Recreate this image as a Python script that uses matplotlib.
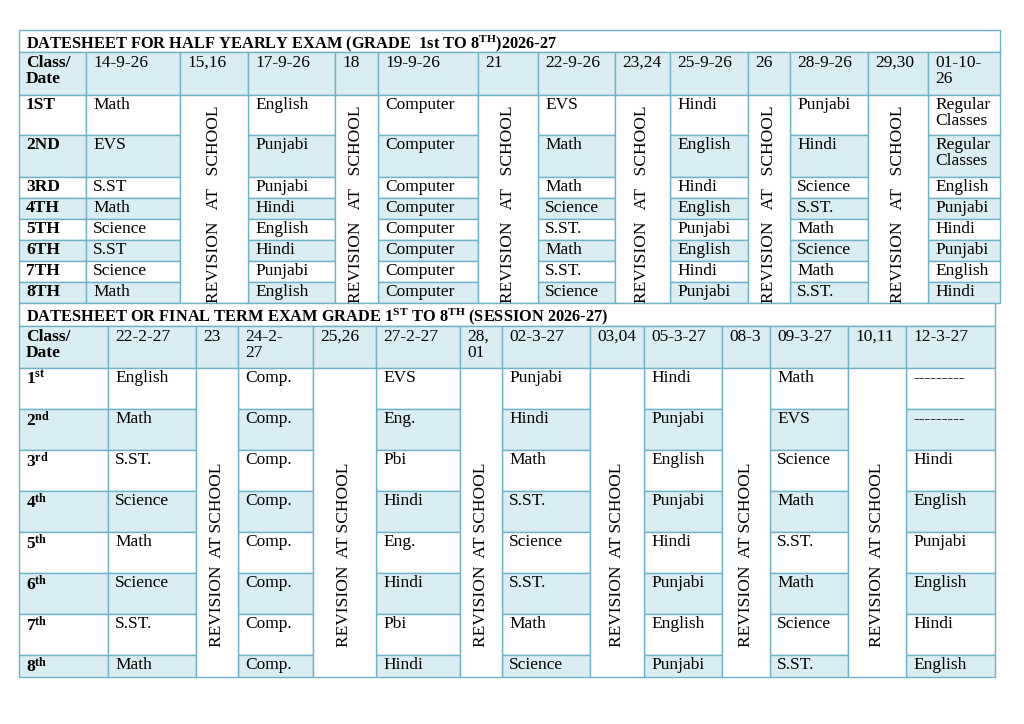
import matplotlib
matplotlib.use("Agg")
import matplotlib.pyplot as plt
from matplotlib.patches import Rectangle

FONT = "Liberation Serif"
BLUE = "#daedf3"
EDGE = "#6fb3c8"

title1 = "DATESHEET FOR HALF YEARLY EXAM (GRADE  1st TO 8$\\mathregular{^{TH}}$)2026-27"
head1 = ["Class/\nDate", "14-9-26", "15,16", "17-9-26", "18", "19-9-26", "21", "22-9-26",
         "23,24", "25-9-26", "26", "28-9-26", "29,30", "01-10-\n26"]
rev1 = [2, 4, 6, 8, 10, 12]
classes1 = ["1ST", "2ND", "3RD", "4TH", "5TH", "6TH", "7TH", "8TH"]
exam1 = [
    ["Math", "English", "Computer", "EVS", "Hindi", "Punjabi", "Regular\nClasses"],
    ["EVS", "Punjabi", "Computer", "Math", "English", "Hindi", "Regular\nClasses"],
    ["S.ST", "Punjabi", "Computer", "Math", "Hindi", "Science", "English"],
    ["Math", "Hindi", "Computer", "Science", "English", "S.ST.", "Punjabi"],
    ["Science", "English", "Computer", "S.ST.", "Punjabi", "Math", "Hindi"],
    ["S.ST", "Hindi", "Computer", "Math", "English", "Science", "Punjabi"],
    ["Science", "Punjabi", "Computer", "S.ST.", "Hindi", "Math", "English"],
    ["Math", "English", "Computer", "Science", "Punjabi", "S.ST.", "Hindi"],
]
title2 = "DATESHEET OR FINAL TERM EXAM GRADE 1$\\mathregular{^{ST}}$ TO 8$\\mathregular{^{TH}}$ (SESSION 2026-27)"
head2 = ["Class/\nDate", "22-2-27", "23", "24-2-\n27", "25,26", "27-2-27", "28,\n01", "02-3-27",
         "03,04", "05-3-27", "08-3", "09-3-27", "10,11", "12-3-27"]
classes2 = ["$\\mathregular{1^{st}}$", "$\\mathregular{2^{nd}}$", "$\\mathregular{3^{rd}}$",
            "$\\mathregular{4^{th}}$", "$\\mathregular{5^{th}}$", "$\\mathregular{6^{th}}$",
            "$\\mathregular{7^{th}}$", "$\\mathregular{8^{th}}$"]
exam2 = [
    ["English", "Comp.", "EVS", "Punjabi", "Hindi", "Math", "---------"],
    ["Math", "Comp.", "Eng.", "Hindi", "Punjabi", "EVS", "---------"],
    ["S.ST.", "Comp.", "Pbi", "Math", "English", "Science", "Hindi"],
    ["Science", "Comp.", "Hindi", "S.ST.", "Punjabi", "Math", "English"],
    ["Math", "Comp.", "Eng.", "Science", "Hindi", "S.ST.", "Punjabi"],
    ["Science", "Comp.", "Hindi", "S.ST.", "Punjabi", "Math", "English"],
    ["S.ST.", "Comp.", "Pbi", "Math", "English", "Science", "Hindi"],
    ["Math", "Comp.", "Hindi", "Science", "Punjabi", "S.ST.", "English"],
]

fig = plt.figure(figsize=(10.24, 7.24), dpi=100)
ax = fig.add_axes([0, 0, 1, 1])
ax.set_xlim(0, 1024); ax.set_ylim(724, 0); ax.axis("off")

def cell(x0, y0, x1, y1, fill):
    ax.add_patch(Rectangle((x0, y0), x1 - x0, y1 - y0, facecolor=fill, edgecolor=EDGE, lw=1))

def txt(x, y, s, bold=False, size=12.5, **kw):
    ax.text(x, y, s, fontfamily=FONT, fontsize=size, fontweight="bold" if bold else "normal",
            va="top", ha="left", linespacing=1.0, **kw)

def table(ty0, ty1, xe, ye, title, head, classes, exam, rev, revtxt, revy):
    cell(xe[0], ty0, xe[-1], ty1, "white")
    txt(xe[0] + 7, ty0 + 3, title, bold=True, size=11.8)
    for c in range(len(head)):
        cell(xe[c], ye[0], xe[c + 1], ye[1], BLUE)
        txt(xe[c] + 7, ye[0] + 3, head[c], bold=(c == 0))
    for r in range(len(classes)):
        fill = "white" if r % 2 == 0 else BLUE
        k = 0
        for c in range(len(head)):
            if c in rev:
                continue
            cell(xe[c], ye[r + 1], xe[c + 1], ye[r + 2], fill)
            s = classes[r] if c == 0 else exam[r][k]
            if c > 0:
                k += 1
            txt(xe[c] + 7, ye[r + 1] + 2, s, bold=(c == 0))
    for c in rev:
        cell(xe[c], ye[1], xe[c + 1], ye[-1], "white")
        ax.text((xe[c] + xe[c + 1]) / 2, revy, revtxt, rotation=90, fontfamily=FONT,
                fontsize=12.5, ha="center", va="center")

xe1 = [19, 86, 180, 248, 335, 378, 478, 538, 615, 670, 748, 790, 868, 928, 1000]
ye1 = [52, 95, 135, 177, 198, 219, 240, 261, 282, 303]
table(30, 52, xe1, ye1, title1, head1, classes1, exam1, rev1, "REVISION   AT   SCHOOL", 204)

xe2 = [19, 108, 196, 238, 313, 376, 460, 502, 590, 644, 722, 770, 848, 906, 995]
ye2 = [326, 368, 409, 450, 491, 532, 573, 614, 655, 677]
table(303, 326, xe2, ye2, title2, head2, classes2, exam2, rev1, "REVISION  AT SCHOOL", 555)

fig.savefig("out.png", dpi=100)
